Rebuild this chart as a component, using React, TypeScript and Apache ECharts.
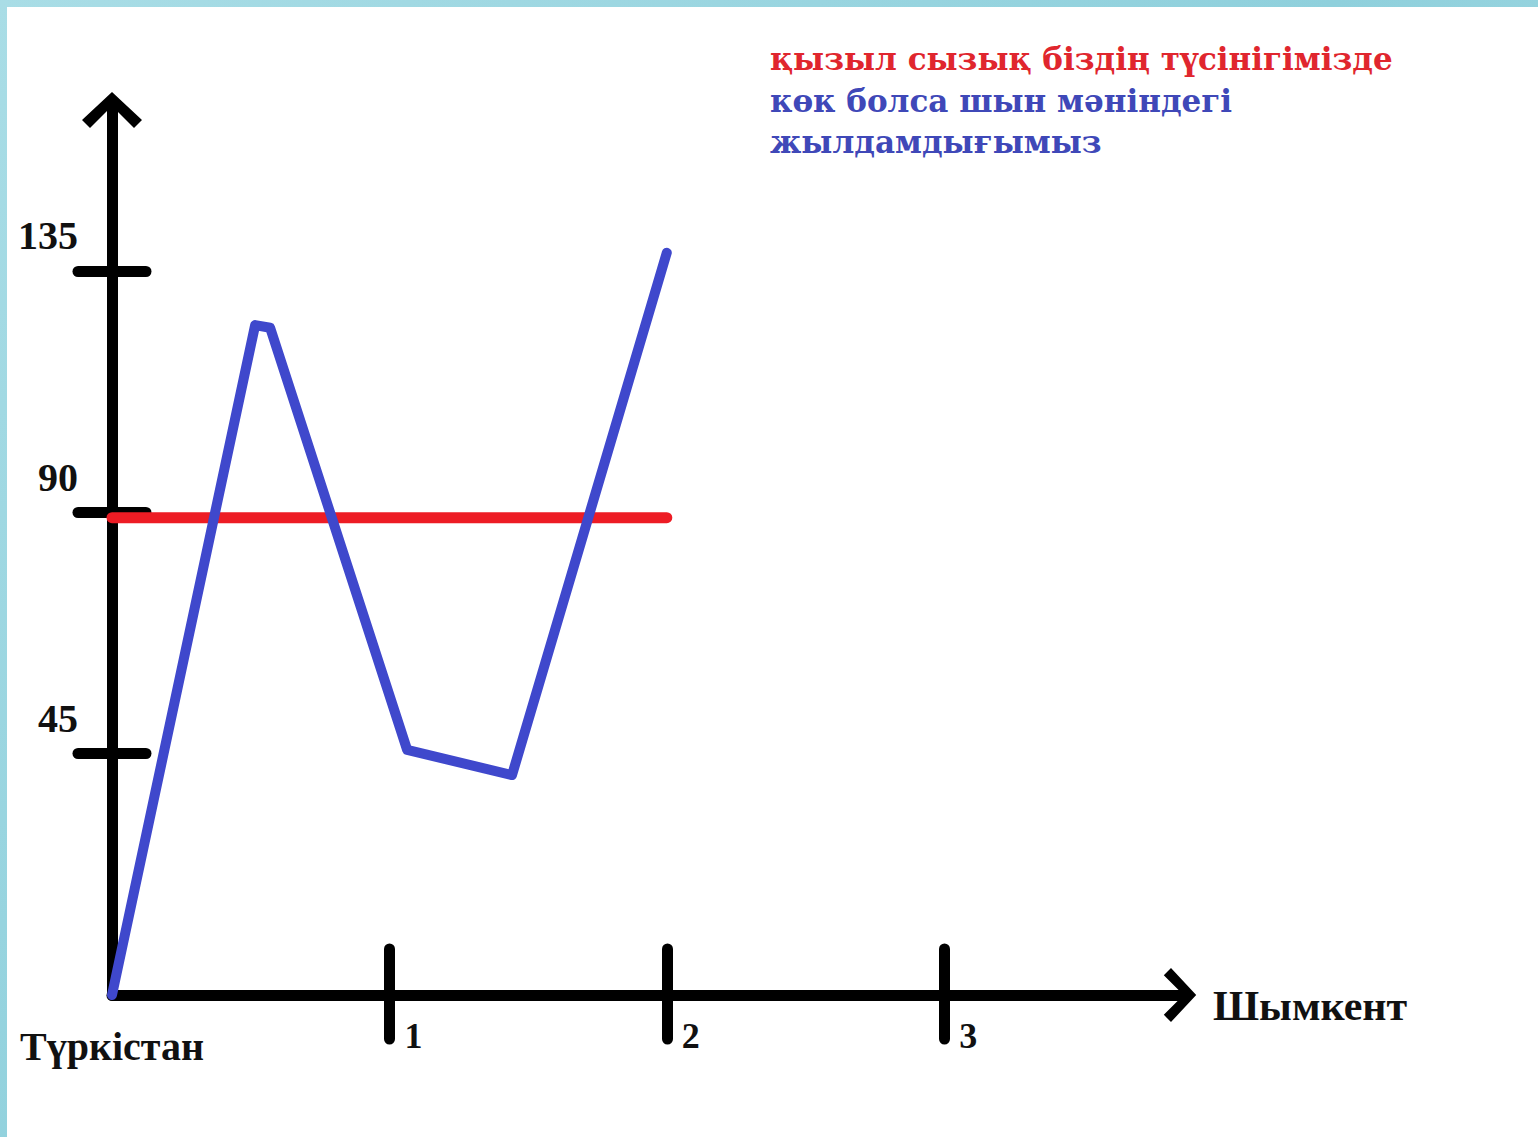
import React, { useEffect, useRef } from "react";
import * as echarts from "echarts";

// ---- data ----
const yTickValues = [45, 90, 135];
const xTickValues = [1, 2, 3];
const expectedSpeed: [number, number][] = [
  [0, 89],
  [2, 89],
];
const actualSpeed: [number, number][] = [
  [0, 0],
  [0.516, 124.9],
  [0.57, 124.4],
  [1.064, 45.7],
  [1.442, 41.0],
  [2.0, 138.4],
];
const startCity = "Түркістан";
const endCity = "Шымкент";
const noteRed = "қызыл сызық біздің түсінігімізде";
const noteBlueLines = ["көк болса шын мәніндегі", "жылдамдығымыз"];

const X_MAX = 3.85;
const Y_MAX = 165;

const FONT = "'Liberation Serif', 'DejaVu Serif', serif";
const NOTE_FONT = "'DejaVu Serif', 'Liberation Serif', serif";
const ARROW = "path://M30,0L60,28L52,36L35,19L35,36L25,36L25,19L8,36L0,28Z";

export default function App() {
  const ref = useRef<HTMLDivElement>(null);

  useEffect(() => {
    if (!ref.current) return;
    const chart = echarts.init(ref.current, undefined, { renderer: "svg" });
    const axisLineStyle = { color: "#000", width: 11, cap: "round" };
    const noteText =
      "{r|" + noteRed + "}\n" + noteBlueLines.map((l) => "{b|" + l + "}").join("\n");
    chart.setOption({
      animation: false,
      backgroundColor: "#ffffff",
      title: {
        left: 763,
        top: 30,
        padding: 0,
        text: noteText,
        textStyle: {
          fontFamily: NOTE_FONT,
          fontWeight: "bold",
          fontSize: 31,
          rich: {
            r: {
              color: "#e0262e",
              fontFamily: NOTE_FONT,
              fontWeight: "bold",
              fontSize: 31,
              lineHeight: 43,
            },
            b: {
              color: "#3f48b8",
              fontFamily: NOTE_FONT,
              fontWeight: "bold",
              fontSize: 31,
              lineHeight: 41,
            },
          },
        },
      },
      grid: {
        left: 105,
        right: 358,
        top: 103,
        bottom: 142,
        containLabel: false,
        outerBoundsMode: "none",
      },
      xAxis: [
        {
          type: "value",
          position: "bottom",
          min: 0,
          max: X_MAX,
          name: endCity,
          nameLocation: "end",
          nameGap: 33,
          nameTextStyle: {
            color: "#111",
            fontFamily: FONT,
            fontWeight: "bold",
            fontSize: 42,
            verticalAlign: "top",
            lineHeight: 22,
          },
          axisLine: {
            show: true,
            onZero: false,
            symbol: ["none", ARROW],
            symbolSize: [54, 40],
            lineStyle: axisLineStyle,
          },
          axisTick: {
            show: true,
            inside: false,
            length: 44,
            customValues: xTickValues,
            lineStyle: { color: "#000", width: 11, cap: "round" },
          },
          axisLabel: {
            show: true,
            customValues: xTickValues,
            margin: 23,
            align: "left",
            padding: [0, 0, 0, 15],
            color: "#111",
            fontFamily: FONT,
            fontWeight: "bold",
            fontSize: 36,
          },
          splitLine: { show: false },
        },
        {
          type: "value",
          position: "bottom",
          min: 0,
          max: X_MAX,
          axisLine: { show: false },
          axisTick: {
            show: true,
            inside: true,
            length: 46,
            customValues: xTickValues,
            lineStyle: { color: "#000", width: 11, cap: "round" },
          },
          axisLabel: { show: false },
          splitLine: { show: false },
        },
      ],
      yAxis: [
        {
          type: "value",
          position: "left",
          min: 0,
          max: Y_MAX,
          name: startCity,
          nameLocation: "start",
          nameGap: 31,
          nameTextStyle: {
            color: "#111",
            fontFamily: FONT,
            fontWeight: "bold",
            fontSize: 40,
          },
          axisLine: {
            show: true,
            onZero: false,
            symbol: ["none", ARROW],
            symbolSize: [60, 36],
            lineStyle: axisLineStyle,
          },
          axisTick: {
            show: true,
            inside: false,
            length: 34,
            customValues: yTickValues,
            lineStyle: { color: "#000", width: 11, cap: "round" },
          },
          axisLabel: {
            show: true,
            customValues: yTickValues,
            margin: 34,
            verticalAlign: "bottom",
            padding: [0, 0, 15, 0],
            color: "#111",
            fontFamily: FONT,
            fontWeight: "bold",
            fontSize: 40,
          },
          splitLine: { show: false },
        },
        {
          type: "value",
          position: "left",
          min: 0,
          max: Y_MAX,
          axisLine: { show: false },
          axisTick: {
            show: true,
            inside: true,
            length: 34,
            customValues: yTickValues,
            lineStyle: { color: "#000", width: 11, cap: "round" },
          },
          axisLabel: { show: false },
          splitLine: { show: false },
        },
      ],
      series: [
        {
          name: "қызыл сызық",
          type: "line",
          xAxisIndex: 0,
          yAxisIndex: 0,
          data: expectedSpeed,
          showSymbol: false,
          symbol: "none",
          lineStyle: { color: "#ed1c24", width: 11, cap: "round", join: "round" },
          z: 3,
        },
        {
          name: "көк",
          type: "line",
          xAxisIndex: 0,
          yAxisIndex: 0,
          data: actualSpeed,
          showSymbol: false,
          symbol: "none",
          lineStyle: { color: "#3f48cc", width: 10, cap: "round", join: "round" },
          z: 4,
        },
      ],
    });
    return () => chart.dispose();
  }, []);

  return (
    <div
      style={{
        position: "fixed",
        left: 0,
        top: 0,
        width: 1538,
        height: 1137,
        background: "linear-gradient(135deg, #a9dde6 0%, #8fd0dc 50%, #b5e3ea 100%)",
      }}
    >
      <div
        ref={ref}
        style={{ position: "absolute", left: 7, top: 7, width: 1531, height: 1130 }}
      />
    </div>
  );
}
